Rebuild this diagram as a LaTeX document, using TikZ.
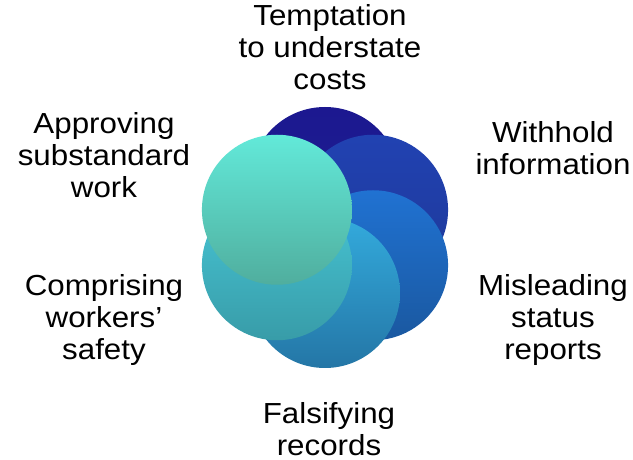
\documentclass[tikz,border=0pt]{standalone}
\usepackage{fontspec}
\newfontfamily\lblfont[FakeStretch=1.08]{Liberation Sans}
\definecolor{ctopA}{HTML}{1C1890}\definecolor{cbotA}{HTML}{1E2090}
\definecolor{ctopB}{HTML}{2142B2}\definecolor{cbotB}{HTML}{1E3898}
\definecolor{ctopC}{HTML}{2072D2}\definecolor{cbotC}{HTML}{1A58A0}
\definecolor{ctopD}{HTML}{33AADC}\definecolor{cbotD}{HTML}{2476A6}
\definecolor{ctopE}{HTML}{48C8D8}\definecolor{cbotE}{HTML}{389CA8}
\definecolor{ctopF}{HTML}{62E9D9}\definecolor{cbotF}{HTML}{50AE9E}
\tikzset{
  petal/.style={circle, minimum size=150pt, inner sep=0pt},
  lbl/.style={align=center, font=\lblfont\fontsize{29}{32}\selectfont, inner sep=0pt}
}
\begin{document}
\begin{tikzpicture}[x=1pt, y=1pt]
    % Fix the margins of the picture
    \useasboundingbox (-325,-222.5) rectangle (308,237.5);

    % Draw the six overlapping circles, the last one on top
    \foreach \ang/\c [count=\i] in {90/A, 30/B, -30/C, -90/D, -150/E, 150/F}
        \node[petal, top color=ctop\c, bottom color=cbot\c] (p\i) at (\ang:55.5) {};

    % Place the labels round the ring
    \node[lbl] (temptation) at (5,190.5) {Temptation\\to understate\\costs};
    \node[lbl] (withhold) at (228,89.5) {Withhold\\information};
    \node[lbl] (misleading) at (228,-82.5) {Misleading\\status\\reports};
    \node[lbl] (falsifying) at (4,-191.5) {Falsifying\\records};
    \node[lbl] (comprising) at (-221,-82.5) {Comprising\\workers’\\safety};
    \node[lbl] (approving) at (-221,82.5) {Approving\\substandard\\work};
\end{tikzpicture}
\end{document}
